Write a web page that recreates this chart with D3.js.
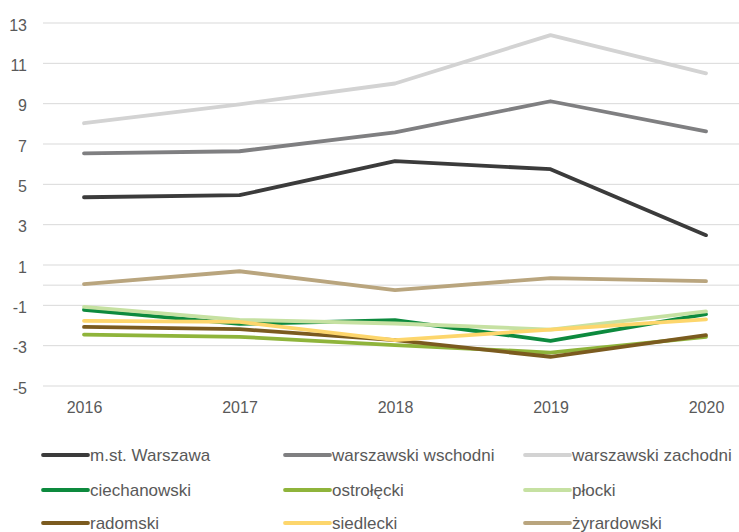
<!DOCTYPE html>
<html><head><meta charset="utf-8">
<script src="https://cdn.jsdelivr.net/npm/d3@7"></script>
<style>body{margin:0;background:#fff}svg{display:block}text{font-family:"Liberation Sans",Arial,sans-serif}</style>
</head><body>
<svg id="c" width="739" height="532"></svg>
<script>
const years = [2016, 2017, 2018, 2019, 2020];
const yTicks = [-5, -3, -1, 1, 3, 5, 7, 9, 11, 13];
const names = ["m.st. Warszawa","warszawski wschodni","warszawski zachodni","ciechanowski","ostrołęcki","płocki","radomski","siedlecki","żyrardowski"];
const colors = ["#3b3b3b","#7f7f81","#d3d3d3","#0d8a3e","#8fb43b","#c6e1a2","#7b5b1f","#fdd66c","#b9a57e"];
const warszawa   = [4.36, 4.46, 6.15, 5.75, 2.48];
const wschodni   = [6.54, 6.64, 7.58, 9.12, 7.63];
const zachodni   = [8.03, 8.97, 10.0, 12.4, 10.5];
const ciechanowski = [-1.22, -1.92, -1.74, -2.76, -1.44];
const ostrolecki = [-2.45, -2.56, -2.97, -3.34, -2.56];
const plocki     = [-1.08, -1.72, -1.9, -2.2, -1.3];
const radomski   = [-2.07, -2.18, -2.73, -3.55, -2.48];
const siedlecki  = [-1.77, -1.82, -2.73, -2.2, -1.7];
const zyrardowski = [0.05, 0.69, -0.25, 0.35, 0.2];
const series = [warszawa, wschodni, zachodni, ciechanowski, ostrolecki, plocki, radomski, siedlecki, zyrardowski];
const svg = d3.select("#c");
const x = d3.scalePoint().domain(years).range([84, 706]);
const y = d3.scaleLinear().domain([-5, 13]).range([386, 23]);
const gridColor = "#d9d9d9", textColor = "#595959";
const FONT = '"Liberation Sans",Arial,sans-serif';
// gridlines
svg.append("g").selectAll("line").data(yTicks.concat([0])).join("line")
  .attr("x1", 43).attr("x2", 739).attr("y1", d => y(d)).attr("y2", d => y(d))
  .attr("stroke", gridColor).attr("stroke-width", 1);
// y axis labels
const ya = svg.append("g").attr("transform", "translate(27,2)")
  .call(d3.axisLeft(y).tickValues(yTicks).tickSize(0).tickPadding(0).tickFormat(d => String(d)));
ya.select(".domain").remove();
ya.selectAll("text").attr("fill", textColor).attr("font-size", 16).attr("font-family", FONT);
// x axis labels
const xa = svg.append("g").attr("transform", "translate(0,402)")
  .call(d3.axisBottom(x).tickSize(0).tickPadding(0).tickFormat(d => String(d)));
xa.select(".domain").remove();
xa.selectAll("text").attr("fill", textColor).attr("font-size", 16).attr("font-family", FONT);
// lines
const line = d3.line().x((d, i) => x(years[i])).y(d => y(d));
svg.append("g").selectAll("path").data(series).join("path")
  .attr("d", d => line(d)).attr("fill", "none")
  .attr("stroke", (d, i) => colors[i]).attr("stroke-width", 3.8)
  .attr("stroke-linejoin", "round").attr("stroke-linecap", "round");
// legend
const colX = [43, 285, 525], rowY = [455, 490, 523];
const lg = svg.append("g").selectAll("g").data(names).join("g")
  .attr("transform", (d, i) => `translate(${colX[i % 3]},${rowY[Math.floor(i / 3)]})`);
lg.append("line").attr("x1", 0).attr("x2", 45).attr("y1", 0).attr("y2", 0)
  .attr("stroke", (d, i) => colors[i]).attr("stroke-width", 3.8).attr("stroke-linecap", "round");
lg.append("text").attr("x", 47).attr("y", 0).attr("dy", "0.35em")
  .attr("fill", textColor).attr("font-size", 17).attr("font-family", FONT).text(d => d);
</script>
</body></html>
